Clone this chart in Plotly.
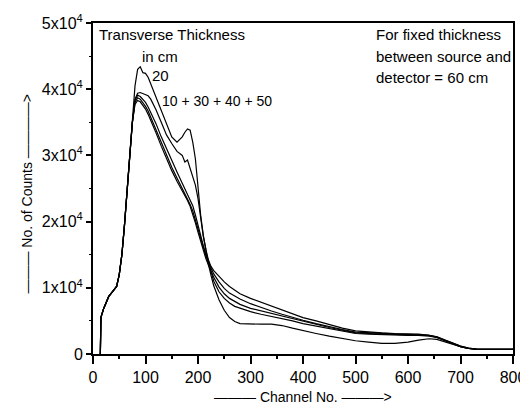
import plotly.graph_objects as go

# Channel numbers (shared grid)
channels = [14, 15, 20, 25, 30, 35, 40, 45, 50, 55, 60, 65, 70, 75, 80, 85, 90, 95, 100, 105,
            110, 115, 120, 130, 140, 150, 160, 170, 175, 180, 185, 190, 195, 200, 205, 210,
            215, 220, 225, 230, 240, 250, 260, 270, 280, 300, 320, 340, 360, 380, 400, 425,
            450, 475, 500, 525, 550, 575, 600, 620, 640, 655, 670, 685, 700, 715, 730, 760, 800]

rise = [0, 5500, 6800, 7800, 8700, 9200, 9700, 10200, 12000, 15000, 19500, 24500, 30000, 35000]

counts_20 = rise + [40500, 43000, 43400, 42500, 42400, 41800, 40800, 39900, 39000, 37000, 35000,
                    32800, 32000, 32800, 33500, 34000, 33800, 32000, 29500, 25000, 21000, 18000,
                    15500, 13500, 11800, 10300, 8200, 6600, 5500, 4900, 4600, 4500, 4500, 4500,
                    4300, 3900, 3500, 3100, 2700, 2300, 2000, 1800, 1600, 1600, 1800, 2100, 2300,
                    2200, 1800, 1400, 1100, 850, 750, 700, 700]

counts_10 = rise + [38500, 39400, 39500, 39300, 39200, 39000, 38500, 37800, 36900, 35000, 33100,
                    31800, 30600, 30000, 29000, 29300, 28000, 27000, 25500, 23500, 20500, 17800,
                    15800, 14000, 12400, 11000, 9400, 8400, 7700, 7200, 6900, 6400, 6000, 5700,
                    5400, 5000, 4600, 4200, 3800, 3400, 3100, 3000, 2900, 2900, 2800, 2800, 2700,
                    2500, 2000, 1500, 1100, 850, 750, 700, 700]

counts_30 = rise + [38300, 39100, 38900, 38500, 38000, 37300, 36500, 35600, 34800, 32800, 31000,
                    29100, 27500, 25800, 25000, 24200, 23400, 22400, 21000, 19400, 17900, 16400,
                    15100, 14000, 13200, 12600, 11700, 10900, 10200, 9600, 9100, 8400, 7800, 7200,
                    6600, 6000, 5500, 5000, 4400, 3900, 3500, 3300, 3200, 3100, 3100, 3000, 2800,
                    2600, 2100, 1600, 1200, 900, 750, 700, 700]

counts_40 = rise + [38000, 38700, 38500, 38000, 37400, 36700, 35800, 34900, 34000, 32000, 30100,
                    28200, 26600, 25000, 24300, 23500, 22600, 21600, 20200, 18800, 17400, 16000,
                    14800, 13800, 12900, 12100, 10900, 9900, 9200, 8700, 8300, 7600, 7000, 6500,
                    6000, 5500, 5100, 4600, 4100, 3700, 3300, 3200, 3100, 3000, 3000, 2900, 2800,
                    2500, 2000, 1500, 1100, 850, 750, 700, 700]

counts_50 = rise + [37700, 38300, 38100, 37600, 37000, 36200, 35300, 34400, 33400, 31400, 29500,
                    27700, 26100, 24700, 24000, 23200, 22300, 21200, 19800, 18400, 17000, 15600,
                    14400, 13400, 12500, 11600, 10100, 9100, 8400, 7900, 7500, 6900, 6500, 6200,
                    5800, 5300, 4900, 4400, 4000, 3600, 3200, 3100, 3000, 3000, 2900, 2900, 2800,
                    2600, 2100, 1600, 1200, 900, 750, 700, 700]

series = {"20 cm": counts_20, "10 cm": counts_10, "30 cm": counts_30,
          "40 cm": counts_40, "50 cm": counts_50}

y_tickvals = [0, 10000, 20000, 30000, 40000, 50000]
y_ticktext = ["0", "1x10<sup>4</sup>", "2x10<sup>4</sup>", "3x10<sup>4</sup>",
              "4x10<sup>4</sup>", "5x10<sup>4</sup>"]
y_minor_tickvals = [5000, 15000, 25000, 35000, 45000]
x_tickvals = [0, 100, 200, 300, 400, 500, 600, 700, 800]
x_minor_tickvals = [50, 150, 250, 350, 450, 550, 650, 750]

FONT = "Arial, 'Liberation Sans', sans-serif"
INK = "black"

fig = go.Figure()
for name, vals in series.items():
    fig.add_trace(go.Scatter(x=channels, y=vals, mode="lines", name=name,
                             line=dict(color=INK, width=1.2), showlegend=False))
# empty trace so that the overlay axes (intermediate ticks) are drawn
fig.add_trace(go.Scatter(x=[], y=[], xaxis="x2", yaxis="y2", mode="lines",
                         showlegend=False, hoverinfo="skip"))

# page body has an 8px margin: figure is 520x398, offset by 8px
fig.update_layout(
    width=520, height=398,
    margin=dict(l=85, r=15, t=15, b=52, autoexpand=False),
    paper_bgcolor="white", plot_bgcolor="white",
    font=dict(family=FONT, color=INK, size=14),
    xaxis=dict(range=[0, 800], tickvals=x_tickvals, ticks="outside", ticklen=8, tickwidth=2,
               tickcolor=INK, showgrid=False, zeroline=False, showline=True,
               linewidth=2, linecolor=INK, mirror=True, automargin=False,
               ticklabeloverflow="allow",
               tickfont=dict(size=16, family=FONT, color=INK)),
    yaxis=dict(range=[0, 50000], tickvals=y_tickvals, ticktext=y_ticktext, ticks="outside",
               ticklen=5, tickwidth=1.5, tickcolor=INK, showgrid=False, zeroline=False,
               showline=True, linewidth=2, linecolor=INK, mirror=True, automargin=False,
               tickfont=dict(size=16, family=FONT, color=INK)),
    # overlay axes carrying only the short intermediate ticks
    xaxis2=dict(range=[0, 800], overlaying="x", anchor="y", side="bottom",
                tickvals=x_minor_tickvals, ticks="outside", ticklen=4, tickwidth=1.5,
                tickcolor=INK, showticklabels=False, showgrid=False, zeroline=False,
                showline=False, automargin=False),
    yaxis2=dict(range=[0, 50000], overlaying="y", anchor="x", side="left",
                tickvals=y_minor_tickvals, ticks="outside", ticklen=3, tickwidth=1,
                tickcolor=INK, showticklabels=False, showgrid=False, zeroline=False,
                showline=False, automargin=False),
)

anns = [
    dict(x=7, y=48200, text="Transverse Thickness", xanchor="left", size=15),
    dict(x=127, y=44900, text="in cm", xanchor="center", size=15),
    dict(x=128, y=42000, text="20", xanchor="center", size=15),
    dict(x=237, y=38200, text="10 + 30 + 40 + 50", xanchor="center", size=14),
    dict(x=535, y=48200, text="For fixed thickness", xanchor="left", size=15),
    dict(x=535, y=45000, text="between source and", xanchor="left", size=15),
    dict(x=535, y=41800, text="detector = 60 cm", xanchor="left", size=15),
]
for a in anns:
    size = a.pop("size")
    fig.add_annotation(xref="x", yref="y", showarrow=False, yanchor="middle",
                       font=dict(size=size, family=FONT, color=INK), **a)

fig.add_annotation(xref="paper", yref="paper", x=-0.18, y=0.486, showarrow=False,
                   text="——— No. of Counts ————>", textangle=-90,
                   font=dict(size=14, family=FONT, color=INK))
fig.add_annotation(xref="paper", yref="paper", x=0.5, y=-0.13, showarrow=False,
                   text="——— Channel No. ———>", yanchor="middle",
                   font=dict(size=14, family=FONT, color=INK))

fig.write_html("out.html")
